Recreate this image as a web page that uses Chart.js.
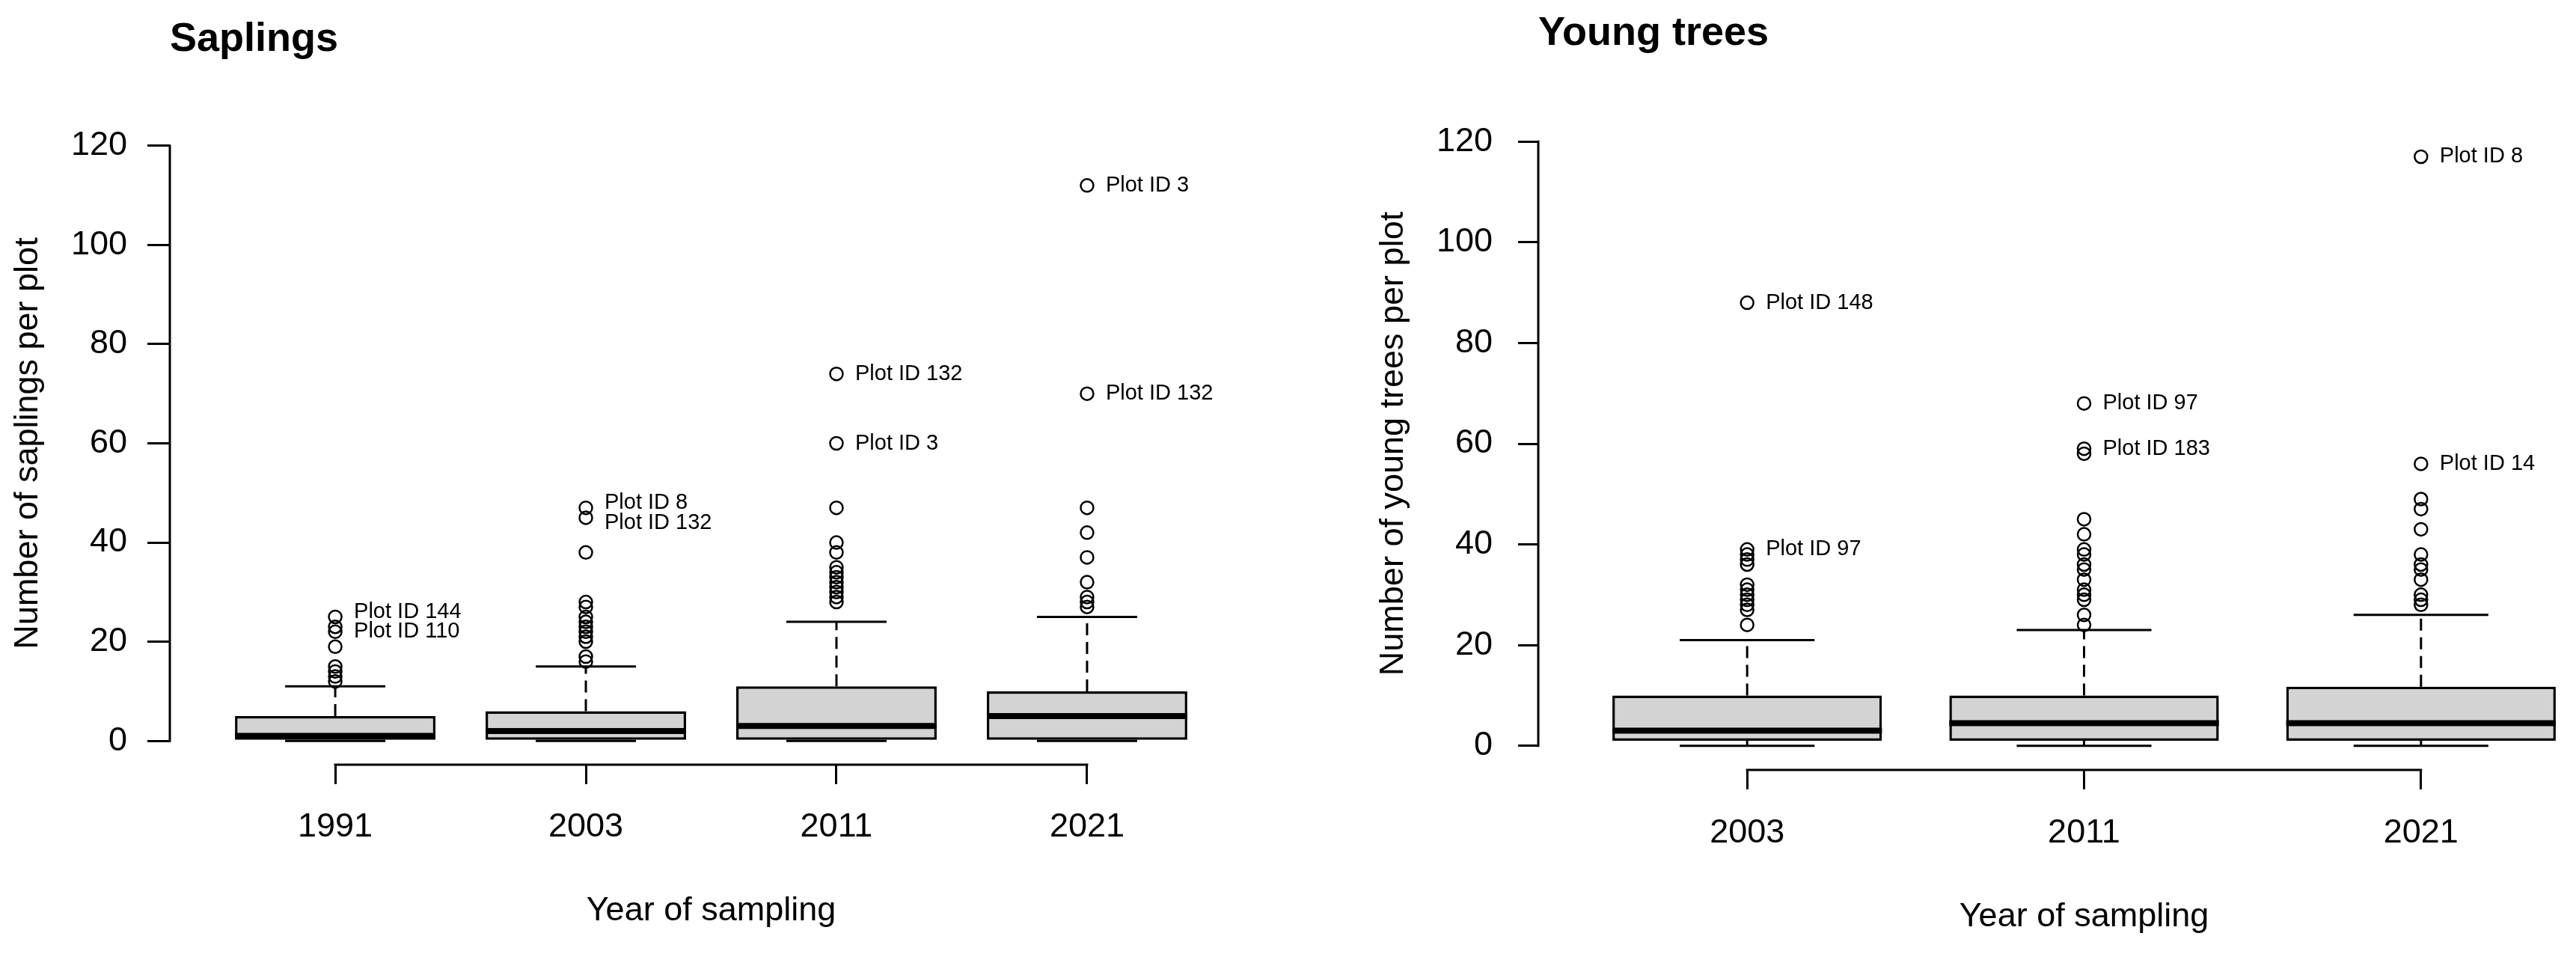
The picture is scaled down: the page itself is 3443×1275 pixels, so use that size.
<!DOCTYPE html>
<html><head><meta charset="utf-8">
<script src="https://cdn.jsdelivr.net/npm/chart.js@4"></script>
<style>
html,body{margin:0;padding:0;background:#fff;overflow:hidden;width:3443px;height:1275px;}
#c1{position:absolute;left:0;top:0;}
#c2{position:absolute;left:1720px;top:0;}
</style></head><body>
<canvas id="c1" width="1720" height="1275" style="width:1720px;height:1275px"></canvas>
<canvas id="c2" width="1806" height="1275" style="width:1806px;height:1275px"></canvas>
<script>
// ---------- data ----------
const yTicks = [0, 20, 40, 60, 80, 100, 120];

const saplingYears   = ['1991', '2003', '2011', '2021'];
const saplingMin     = [0, 0, 0, 0];
const saplingQ1      = [0, 0, 0, 0];
const saplingMedian  = [1, 2, 3, 5];
const saplingQ3      = [5, 6, 11, 10];
const saplingMax     = [11, 15, 24, 25];
const saplingOut1991 = [12, 13, 14, 15, 19, 22, 23, 25];
const saplingOut2003 = [16, 17, 20, 21, 22, 23, 24, 25, 27, 28, 38, 45, 47];
const saplingOut2011 = [28, 29, 30, 31, 32, 33, 34, 35, 38, 40, 47, 60, 74];
const saplingOut2021 = [27, 28, 29, 32, 37, 42, 47, 70, 112];
const saplingLabelBox   = [1, 1, 2, 2, 3, 3, 4, 4];
const saplingLabelValue = [26, 22, 48, 44, 74, 60, 112, 70];
const saplingLabelText  = ['Plot ID 144', 'Plot ID 110', 'Plot ID 8', 'Plot ID 132', 'Plot ID 132', 'Plot ID 3', 'Plot ID 3', 'Plot ID 132'];

const youngYears   = ['2003', '2011', '2021'];
const youngMin     = [0, 0, 0];
const youngQ1      = [1, 1, 1];
const youngMedian  = [3, 4.5, 4.5];
const youngQ3      = [10, 10, 11.75];
const youngMax     = [21, 23, 26];
const youngOut2003 = [24, 27, 28, 29, 30, 31, 32, 36, 37, 38, 39, 88];
const youngOut2011 = [24, 26, 29, 30, 31, 33, 35, 36, 38, 39, 42, 45, 58, 59, 68];
const youngOut2021 = [28, 29, 30, 33, 35, 36, 38, 43, 47, 49, 56, 117];
const youngLabelBox   = [1, 1, 2, 2, 3, 3];
const youngLabelValue = [88, 39, 68, 59, 117, 56];
const youngLabelText  = ['Plot ID 148', 'Plot ID 97', 'Plot ID 97', 'Plot ID 183', 'Plot ID 8', 'Plot ID 14'];

// ---------- drawing ----------
const FAMILY = '"Liberation Sans", Arial, Helvetica, sans-serif';
Chart.defaults.font.family = FAMILY;
Chart.defaults.color = '#000';

function rBoxPlugin(o) {
  function seg(ctx, x1, y1, x2, y2) { ctx.beginPath(); ctx.moveTo(x1, y1); ctx.lineTo(x2, y2); ctx.stroke(); }
  return {
    id: 'rbox',
    beforeDatasetsDraw(chart) {
      const ctx = chart.ctx, xs = chart.scales.x, ys = chart.scales.y;
      ctx.save();
      ctx.strokeStyle = '#000';
      ctx.lineWidth = 3;
      ctx.lineCap = 'butt';
      const half = xs.getPixelForValue(1 + o.staple / 2) - xs.getPixelForValue(1);
      o.q3.forEach((q3, i) => {
        const px = xs.getPixelForValue(i + 1);
        ctx.setLineDash([16, 9]);
        seg(ctx, px, ys.getPixelForValue(q3), px, ys.getPixelForValue(o.max[i]));
        seg(ctx, px, ys.getPixelForValue(o.q1[i]), px, ys.getPixelForValue(o.min[i]));
        ctx.setLineDash([]);
        seg(ctx, px - half, ys.getPixelForValue(o.max[i]), px + half, ys.getPixelForValue(o.max[i]));
        seg(ctx, px - half, ys.getPixelForValue(o.min[i]), px + half, ys.getPixelForValue(o.min[i]));
      });
      // R-style axis lines spanning only the tick range
      const ax = chart.chartArea.left;
      seg(ctx, ax, ys.getPixelForValue(yTicks[0]) + 1.5, ax, ys.getPixelForValue(yTicks[yTicks.length - 1]) - 1.5);
      const by = chart.chartArea.bottom;
      seg(ctx, xs.getPixelForValue(1) - 1.5, by, xs.getPixelForValue(o.years.length) + 1.5, by);
      ctx.restore();
    },
    afterDatasetsDraw(chart) {
      const ctx = chart.ctx, xs = chart.scales.x, ys = chart.scales.y;
      const bars = chart.getDatasetMeta(0).data;
      ctx.save();
      ctx.strokeStyle = '#000';
      ctx.lineWidth = 8;
      o.median.forEach((m, i) => {
        const b = bars[i];
        const py = ys.getPixelForValue(m);
        ctx.beginPath(); ctx.moveTo(b.x - b.width / 2, py); ctx.lineTo(b.x + b.width / 2, py); ctx.stroke();
      });
      ctx.fillStyle = '#000';
      ctx.font = '29px ' + FAMILY;
      ctx.textAlign = 'left';
      ctx.textBaseline = 'middle';
      o.labelText.forEach((t, k) => {
        ctx.fillText(t, xs.getPixelForValue(o.labelBox[k]) + 25, ys.getPixelForValue(o.labelValue[k]));
      });
      ctx.restore();
    }
  };
}

function makeChart(canvas, o) {
  const tickFont = {family: FAMILY, size: 45};
  return new Chart(canvas, {
    data: {
      datasets: [
        {
          type: 'bar',
          data: o.years.map((_, i) => ({x: i + 1, y: [o.q1[i], o.q3[i]]})),
          backgroundColor: '#d3d3d3',
          borderColor: '#000',
          borderWidth: 3.5,
          borderSkipped: false,
          barPercentage: 0.8,
          categoryPercentage: 1,
          order: 2
        },
        {
          type: 'scatter',
          data: o.outliers.flatMap((arr, i) => arr.map(v => ({x: i + 1, y: v}))),
          pointStyle: 'circle',
          pointRadius: 8.5,
          borderWidth: 2.5,
          borderColor: '#000',
          backgroundColor: 'rgba(0,0,0,0)',
          showLine: false,
          order: 1
        }
      ]
    },
    options: {
      responsive: false,
      animation: false,
      devicePixelRatio: 1,
      layout: {padding: o.pad},
      plugins: {
        legend: {display: false},
        tooltip: {enabled: false},
        title: {
          display: true, text: o.title, align: 'start', fullSize: false, color: '#000',
          font: {family: FAMILY, size: 54, weight: 'bold'},
          padding: o.titlePad
        }
      },
      scales: {
        x: {
          type: 'linear', min: o.xmin, max: o.xmax, offset: false,
          border: {display: false},
          grid: {display: true, offset: false, drawOnChartArea: false, drawTicks: true, tickLength: 26, color: '#000', lineWidth: 3},
          ticks: {autoSkip: false, maxRotation: 0, padding: o.xTickPad, font: tickFont, color: '#000',
                  callback: v => o.years[v - 1] ?? ''},
          afterBuildTicks: s => { s.ticks = o.years.map((_, i) => ({value: i + 1})); },
          afterFit: s => { s.height = 230; },
          title: {display: true, text: 'Year of sampling', color: '#000', font: tickFont, padding: {top: 0, bottom: o.xTitlePad}}
        },
        y: {
          type: 'linear', min: -4.8, max: 124.8,
          border: {display: false},
          grid: {display: true, offset: false, drawOnChartArea: false, drawTicks: true, tickLength: o.yTickLen, color: '#000', lineWidth: 3},
          ticks: {autoSkip: false, padding: o.yTickPad, font: tickFont, color: '#000', callback: v => String(v)},
          afterBuildTicks: s => { s.ticks = yTicks.map(v => ({value: v})); },
          afterFit: s => { s.width = o.yWidth; },
          title: {display: true, text: o.yTitle, color: '#000', font: tickFont, padding: {top: o.yTitlePad, bottom: 0}}
        }
      }
    },
    plugins: [rBoxPlugin(o)]
  });
}

makeChart(document.getElementById('c1'), {
  title: 'Saplings', yTitle: 'Number of saplings per plot',
  years: saplingYears, min: saplingMin, q1: saplingQ1, median: saplingMedian, q3: saplingQ3, max: saplingMax,
  outliers: [saplingOut1991, saplingOut2003, saplingOut2011, saplingOut2021],
  labelBox: saplingLabelBox, labelValue: saplingLabelValue, labelText: saplingLabelText,
  staple: 0.4, xmin: 0.34, xmax: 4.66,
  pad: {left: 0, right: 46, top: 0, bottom: 23},
  titlePad: {top: 21, bottom: 77.2},
  yWidth: 227, yTickLen: 30, yTickPad: 27, yTitlePad: 11,
  xTickPad: 31, xTitlePad: 7
});

makeChart(document.getElementById('c2'), {
  title: 'Young trees', yTitle: 'Number of young trees per plot',
  years: youngYears, min: youngMin, q1: youngQ1, median: youngMedian, q3: youngQ3, max: youngMax,
  outliers: [youngOut2003, youngOut2011, youngOut2021],
  labelBox: youngLabelBox, labelValue: youngLabelValue, labelText: youngLabelText,
  staple: 0.4, xmin: 0.38, xmax: 3.62,
  pad: {left: 100, right: 0, top: 0, bottom: 16},
  titlePad: {top: 13, bottom: 79.2},
  yWidth: 236, yTickLen: 27, yTickPad: 34, yTitlePad: 16,
  xTickPad: 32, xTitlePad: 6
});
</script>
</body></html>
